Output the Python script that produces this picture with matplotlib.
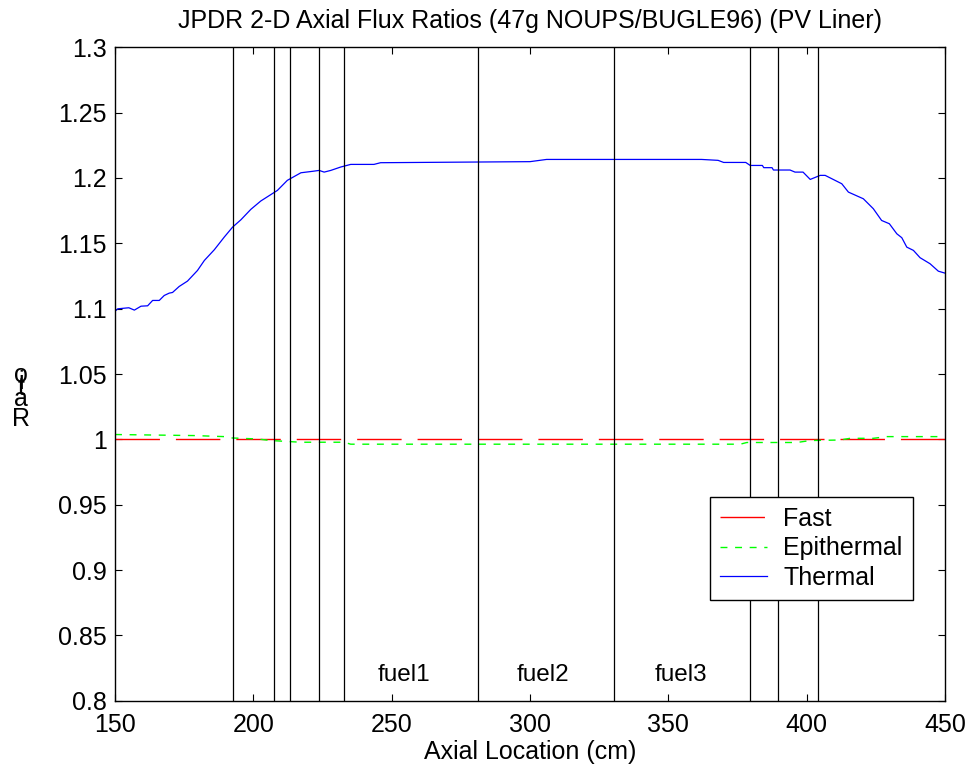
import numpy as np
from matplotlib import pyplot as plt
from matplotlib.ticker import FuncFormatter

plt.rcParams['font.family'] = ['Liberation Sans', 'DejaVu Sans']

# axial positions (cm) and ratios
xThermal = [150, 151, 155, 157, 159.4, 161.8, 163.6, 166, 167.8, 169.6, 170.8, 173.2, 176.2,
            179.8, 182.3, 185.9, 189.5, 192.5, 195.5, 199.1, 202.7, 208.7, 212.3, 217.2,
            221.4, 223.8, 225.6, 228, 231.6, 235.2, 243.6, 246, 253, 300, 306, 362, 368,
            370, 378, 379.6, 384, 384.5, 387.5, 388, 394, 395.8, 398.7, 401.3, 404.9,
            406.7, 412.7, 415.1, 420.5, 424.1, 427.1, 429.9, 432.6, 434.4, 436.2, 438.6,
            441, 444.6, 447.6, 450]
yThermal = [1.098, 1.0999, 1.1007, 1.0989, 1.1019, 1.1022, 1.1063, 1.1063, 1.1101, 1.1119,
            1.1124, 1.1170, 1.1211, 1.1292, 1.1369, 1.1451, 1.1548, 1.1624, 1.1680, 1.1760,
            1.1824, 1.1905, 1.1982, 1.2040, 1.2051, 1.2058, 1.2045, 1.2058, 1.2084, 1.2104,
            1.2104, 1.2117, 1.2118, 1.2125, 1.2142, 1.2142, 1.2135, 1.2119, 1.2119, 1.2096,
            1.2096, 1.2079, 1.2079, 1.2061, 1.2061, 1.2045, 1.2045, 1.1989, 1.2020, 1.2020,
            1.1956, 1.1892, 1.1841, 1.1765, 1.1675, 1.1650, 1.1573, 1.1543, 1.1471, 1.1446,
            1.1390, 1.1344, 1.1287, 1.1272]

xEpi = [150, 178.6, 189.5, 191.9, 201.5, 206.3, 217.1, 232.8, 235.2, 376, 378.4, 396.5,
        401.3, 412.1, 415.7, 424.1, 428.9, 450]
yEpi = [1.0037, 1.0029, 1.0021, 1.0011, 1.0003, 0.9991, 0.9978, 0.9978, 0.9963, 0.9963,
        0.9976, 0.9976, 0.9991, 0.9995, 1.0008, 1.0008, 1.0021, 1.0021]

xFast = [150, 450]
yFast = [1.0, 1.0]

boundaries = [192.5, 207.6, 213.3, 223.7, 232.7, 281.2, 330.4, 379.4, 389.7, 404.2]
fuelNames = ['fuel1', 'fuel2', 'fuel3']
fuelX = [245, 295, 345]

fig = plt.figure(figsize=(9.68, 7.68), dpi=100)
ax = fig.add_axes([0.1188, 0.0876, 0.8574, 0.8508])

ax.plot(xFast, yFast, color='red', lw=1, dashes=(32, 11.5), label='Fast')
ax.plot(xEpi, yEpi, color='#00ff00', lw=1, dashes=(5, 5.5), label='Epithermal')
ax.plot(xThermal, yThermal, color='blue', lw=0.9, label='Thermal')

for b in boundaries:
    ax.axvline(b, color='k', lw=0.9)

for name, fx in zip(fuelNames, fuelX):
    ax.text(fx, 0.82, name, ha='left', va='center', fontsize=17.5)

ax.set_xlim(150, 450)
ax.set_ylim(0.8, 1.3)
ax.set_xticks(np.arange(150, 451, 50))
ax.set_yticks(np.arange(0.8, 1.3001, 0.05))
ax.yaxis.set_major_formatter(FuncFormatter(lambda v, p: '%g' % round(v, 2)))
ax.tick_params(direction='in', length=5, width=0.8, top=True, right=True, labelsize=18)
ax.tick_params(axis='x', pad=9)
ax.tick_params(axis='y', pad=6)
for s in ax.spines.values():
    s.set_linewidth(1)

ax.set_title('JPDR 2-D Axial Flux Ratios (47g NOUPS/BUGLE96) (PV Liner)', fontsize=18, pad=14)
ax.set_xlabel('Axial Location (cm)', fontsize=18, labelpad=2)

# stacked y label like the original export
for ch, yb in zip('Ratio', [426, 406, 395, 389, 382]):
    fig.text(21 / 968, 1 - yb / 768, ch, ha='center', va='baseline', fontsize=18)

leg = ax.legend(loc='upper right', bbox_to_anchor=(0.961, 0.312), fontsize=18,
                handlelength=1.9, handletextpad=0.65, labelspacing=0.22, borderpad=0.4,
                borderaxespad=0, fancybox=False, framealpha=1, edgecolor='k')
leg.get_frame().set_linewidth(1)

fig.savefig('out.png', dpi=100)
